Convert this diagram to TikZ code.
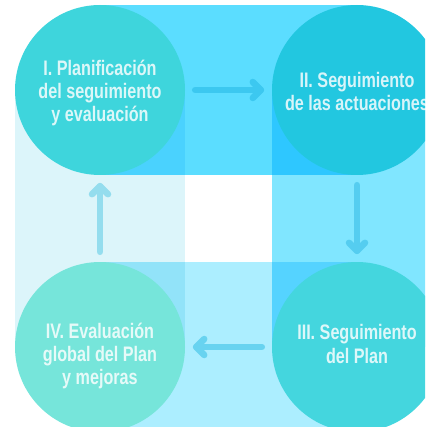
\documentclass[tikz,border=0pt]{standalone}
\usepackage{fontspec}
\newfontfamily\labelfont{Liberation Sans}[FakeStretch=0.77]
\usetikzlibrary{calc}
\definecolor{bandTop}{HTML}{5BDDFF}
\definecolor{bandRight}{HTML}{80E6FF}
\definecolor{bandBottom}{HTML}{ACEEFF}
\definecolor{bandLeft}{HTML}{DCF5FA}
\definecolor{ovTR}{HTML}{2EC7FF}
\definecolor{ovRB}{HTML}{55D3FF}
\definecolor{ovBL}{HTML}{92E3F9}
\definecolor{ovLT}{HTML}{4AD2FE}
\definecolor{cOne}{HTML}{3ED5DC}
\definecolor{cTwo}{HTML}{22C7E0}
\definecolor{cThree}{HTML}{44D6DE}
\definecolor{cFour}{HTML}{76E5DA}
\definecolor{aOne}{HTML}{3CC8F0}
\definecolor{aTwo}{HTML}{55CDF0}
\definecolor{aThree}{HTML}{68D3F0}
\definecolor{aFour}{HTML}{94DDEE}
\tikzset{
  stage/.style={circle,minimum size=170pt,inner sep=0pt,draw=none},
  lbl/.style={align=center,text=white,text opacity=0.82,inner sep=0pt,
    font=\labelfont\bfseries\fontsize{21}{23.3}\selectfont},
  arr/.style={line width=6.5pt,line cap=round,line join=round}
}
\begin{document}
\begin{tikzpicture}[x=1pt,y=-1pt]
\useasboundingbox (0,0) rectangle (425,427);
\begin{scope}
\clip (0,0) rectangle (425,427);
% bands
\fill[bandTop] (100,5) rectangle (357,175);
\fill[bandRight] (272,90) rectangle (442,347);
\fill[bandBottom] (100,262) rectangle (357,432);
\fill[bandLeft] (15,90) rectangle (185,347);
% overlaps
\fill[ovTR] (272,90) rectangle (357,175);
\fill[ovRB] (272,262) rectangle (357,347);
\fill[ovBL] (100,262) rectangle (185,347);
\fill[ovLT] (100,90) rectangle (185,175);
% circles
\node[stage,fill=cOne] (s1) at (100,90) {};
\node[stage,fill=cTwo] (s2) at (357,90) {};
\node[stage,fill=cThree] (s3) at (357,347) {};
\node[stage,fill=cFour] (s4) at (100,347) {};
% labels
\node[lbl] (t1) at (100,93) {I. Planificación\\del seguimiento\\y evaluación};
\node[lbl] (t2) at (357,91.5) {II. Seguimiento\\de las actuaciones};
\node[lbl] (t3) at (357,344) {III. Seguimiento\\del Plan};
\node[lbl] (t4) at (100,356) {IV. Evaluación\\global del Plan\\y mejoras};
% arrows
\draw[arr,aOne] ($(s1.east)+(10,0)$) -- ($(s2.west)+(-11,0)$) coordinate (h1);
\draw[arr,aOne] ($(h1)+(-8,-8)$) -- (h1) -- ($(h1)+(-8,8)$);
\draw[arr,aTwo] ($(s2.south)+(0,10)$) -- ($(s3.north)+(0,-11)$) coordinate (h2);
\draw[arr,aTwo] ($(h2)+(-8,-8)$) -- (h2) -- ($(h2)+(8,-8)$);
\draw[arr,aThree] ($(s3.west)+(-10,0)$) -- ($(s4.east)+(11,0)$) coordinate (h3);
\draw[arr,aThree] ($(h3)+(8,-8)$) -- (h3) -- ($(h3)+(8,8)$);
\draw[arr,aFour] ($(s4.north)+(0,-10)$) -- ($(s1.south)+(0,11)$) coordinate (h4);
\draw[arr,aFour] ($(h4)+(-8,8)$) -- (h4) -- ($(h4)+(8,8)$);
\end{scope}
\end{tikzpicture}
\end{document}
